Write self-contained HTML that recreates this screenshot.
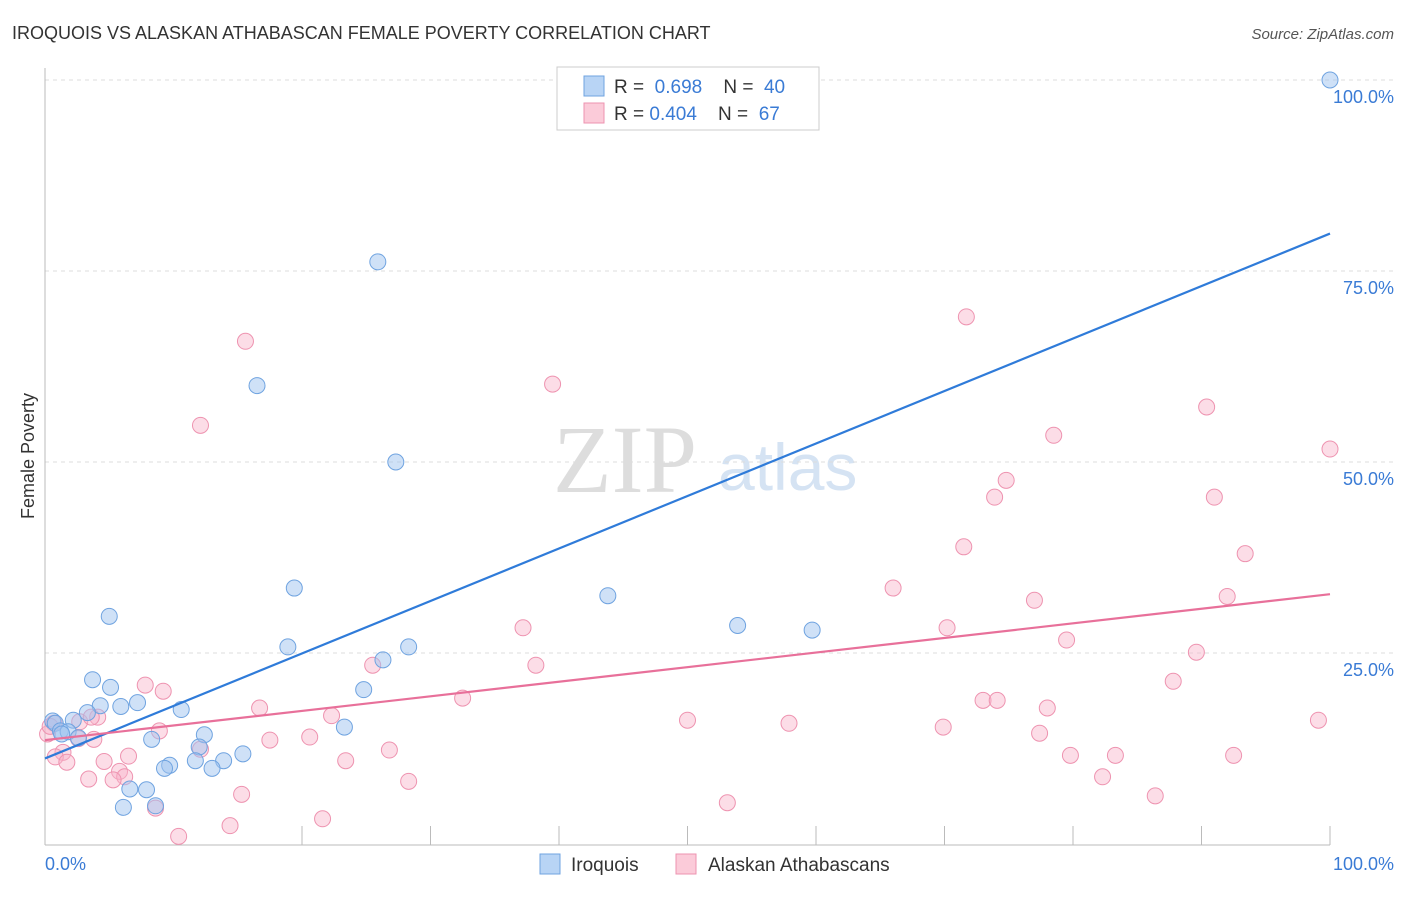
<!DOCTYPE html>
<html><head><meta charset="utf-8"><style>
body{margin:0;background:#fff;font-family:"Liberation Sans",sans-serif;}
</style></head><body>
<svg width="1406" height="892" font-family="Liberation Sans, sans-serif">
<text x="12" y="39" font-size="18" fill="#333">IROQUOIS VS ALASKAN ATHABASCAN FEMALE POVERTY CORRELATION CHART</text>
<text x="1394" y="39" font-size="15" fill="#555" font-style="italic" text-anchor="end">Source: ZipAtlas.com</text>
<text x="553" y="492" font-size="96" fill="#ddd" style="font-family:'Liberation Serif',serif">ZIP</text>
<text x="718" y="490" font-size="66" fill="#d5e3f3">atlas</text>
<g id="grid"></g>
<line x1="45" y1="68" x2="45" y2="845" stroke="#bbb"/>
<line x1="45" y1="845" x2="1330" y2="845" stroke="#bbb"/>
<text x="34" y="456" font-size="18" fill="#333" transform="rotate(-90 34 456)" text-anchor="middle">Female Poverty</text>
<text x="45" y="870" font-size="18" fill="#3a7bd5">0.0%</text>
<text x="1394" y="870" font-size="18" fill="#3a7bd5" text-anchor="end">100.0%</text>
<g id="pts"></g>
<g id="lines"></g>
<rect x="557" y="67" width="262" height="63" fill="#fff" stroke="#ccc"/>
<rect x="584" y="76" width="20" height="20" fill="#b8d4f5" stroke="#6fa3e0"/>
<rect x="584" y="103" width="20" height="20" fill="#fbcbd9" stroke="#ee93b0"/>
<text x="614" y="93" font-size="19" fill="#333">R = <tspan fill="#3a7bd5">&#160;0.698</tspan>&#160;&#160;&#160;&#160;N = <tspan fill="#3a7bd5">&#160;40</tspan></text>
<text x="614" y="120" font-size="19" fill="#333">R = <tspan fill="#3a7bd5">0.404</tspan>&#160;&#160;&#160;&#160;N = <tspan fill="#3a7bd5">&#160;67</tspan></text>
<rect x="540" y="854" width="20" height="20" fill="#b8d4f5" stroke="#6fa3e0"/>
<text x="571" y="871" font-size="19" fill="#333">Iroquois</text>
<rect x="676" y="854" width="20" height="20" fill="#fbcbd9" stroke="#ee93b0"/>
<text x="708" y="871" font-size="19" fill="#333">Alaskan Athabascans</text>
</svg>
<script>
const yTicks=[25,50,75,100];
const xTicks=[20,30,40,50,60,70,80,90,100];
const blueX=[100,25.9,16.5,27.3,19.4,43.8,5.0,53.9,59.7,18.9,28.3,26.3,3.7,5.1,24.8,7.2,4.3,5.9,10.6,3.3,2.2,0.6,0.8,1.2,1.8,1.3,2.6,23.3,8.3,12.4,12.0,15.4,11.7,13.9,9.7,9.3,13.0,6.6,7.9,6.1,8.6];
const blueY=[100,76.2,60.0,50.0,33.5,32.5,29.8,28.6,28.0,25.8,25.8,24.1,21.5,20.5,20.2,18.5,18.1,18.0,17.6,17.2,16.2,16.1,15.8,14.8,14.7,14.4,13.9,15.3,13.7,14.3,12.7,11.8,10.9,10.9,10.3,9.9,9.9,7.2,7.1,4.8,5.0];
const pinkX=[15.6,71.7,39.5,12.1,90.4,78.5,74.8,73.9,91.0,100,71.5,93.4,66.0,77.0,92.0,37.2,70.2,79.5,89.6,25.5,38.2,87.8,7.8,9.2,32.5,73.0,74.1,16.7,78.0,22.3,50.0,57.9,99.1,69.9,4.1,2.7,0.7,8.9,77.4,3.8,2.6,17.5,20.6,12.1,26.8,1.4,79.8,83.3,92.5,6.5,0.8,4.6,1.7,23.4,5.8,6.2,82.3,3.4,5.3,28.3,15.3,86.4,8.6,53.1,21.6,14.4,10.4,3.6,0.2,0.4];
const pinkY=[65.8,69.0,60.2,54.8,57.2,53.5,47.6,45.4,45.4,51.7,38.9,38.0,33.5,31.9,32.4,28.3,28.3,26.7,25.1,23.4,23.4,21.3,20.8,20.0,19.1,18.8,18.8,17.8,17.8,16.8,16.2,15.8,16.2,15.3,16.6,16.0,15.8,14.8,14.5,13.7,13.8,13.6,14.0,12.4,12.3,12.0,11.6,11.6,11.6,11.5,11.4,10.8,10.7,10.9,9.5,8.8,8.8,8.5,8.4,8.2,6.5,6.3,4.7,5.4,3.3,2.4,1.0,16.6,14.4,15.4];
const blueLine=[11.2,79.9];
const pinkLine=[13.6,32.7];
const NS='http://www.w3.org/2000/svg';
const X=v=>45+v*12.85, Y=v=>844-v*7.64;
const grid=document.getElementById('grid');
yTicks.forEach(t=>{
 const l=document.createElementNS(NS,'line');
 l.setAttribute('x1',45);l.setAttribute('x2',1394);l.setAttribute('y1',Y(t));l.setAttribute('y2',Y(t));
 l.setAttribute('stroke','#ddd');l.setAttribute('stroke-dasharray','4,4');
 
 
 grid.appendChild(l);
 const tx=document.createElementNS(NS,'text');
 tx.setAttribute('x',1394);tx.setAttribute('y',Y(t)+23);tx.setAttribute('text-anchor','end');
 tx.setAttribute('font-size','18');tx.setAttribute('fill','#3a7bd5');tx.textContent=t.toFixed(1)+'%';
 
 
 grid.appendChild(tx);
});
xTicks.forEach(t=>{
 const l=document.createElementNS(NS,'line');
 l.setAttribute('x1',X(t));l.setAttribute('x2',X(t));l.setAttribute('y1',826);l.setAttribute('y2',845);
 l.setAttribute('stroke','#bbb');
 
 
 grid.appendChild(l);
});
const pts=document.getElementById('pts');
function dots(xs,ys,fill,stroke,name){
 xs.forEach((x,i)=>{
  const c=document.createElementNS(NS,'circle');
  c.setAttribute('cx',X(x));c.setAttribute('cy',Y(ys[i]));c.setAttribute('r',8);
  c.setAttribute('fill',fill);c.setAttribute('stroke',stroke);c.setAttribute('stroke-width','1');
  
  
  pts.appendChild(c);
 });
}
dots(pinkX,pinkY,'rgba(248,180,202,0.45)','#ee93b0','athabascan-point');
dots(blueX,blueY,'rgba(160,196,240,0.5)','#6fa3e0','iroquois-point');
const lines=document.getElementById('lines');
function tl(a,color,name,x0){
 const l=document.createElementNS(NS,'line');
 l.setAttribute('x1',X(x0));l.setAttribute('y1',Y(a[0]+(a[1]-a[0])*x0/100));
 l.setAttribute('x2',X(100));l.setAttribute('y2',Y(a[1]));
 l.setAttribute('stroke',color);l.setAttribute('stroke-width','2.2');
 
 
 lines.appendChild(l);
}
tl(blueLine,'#2f7bd9','iroquois-trendline',0);
tl(pinkLine,'#e8709a','athabascan-trendline',0);
</script>
</body></html>
